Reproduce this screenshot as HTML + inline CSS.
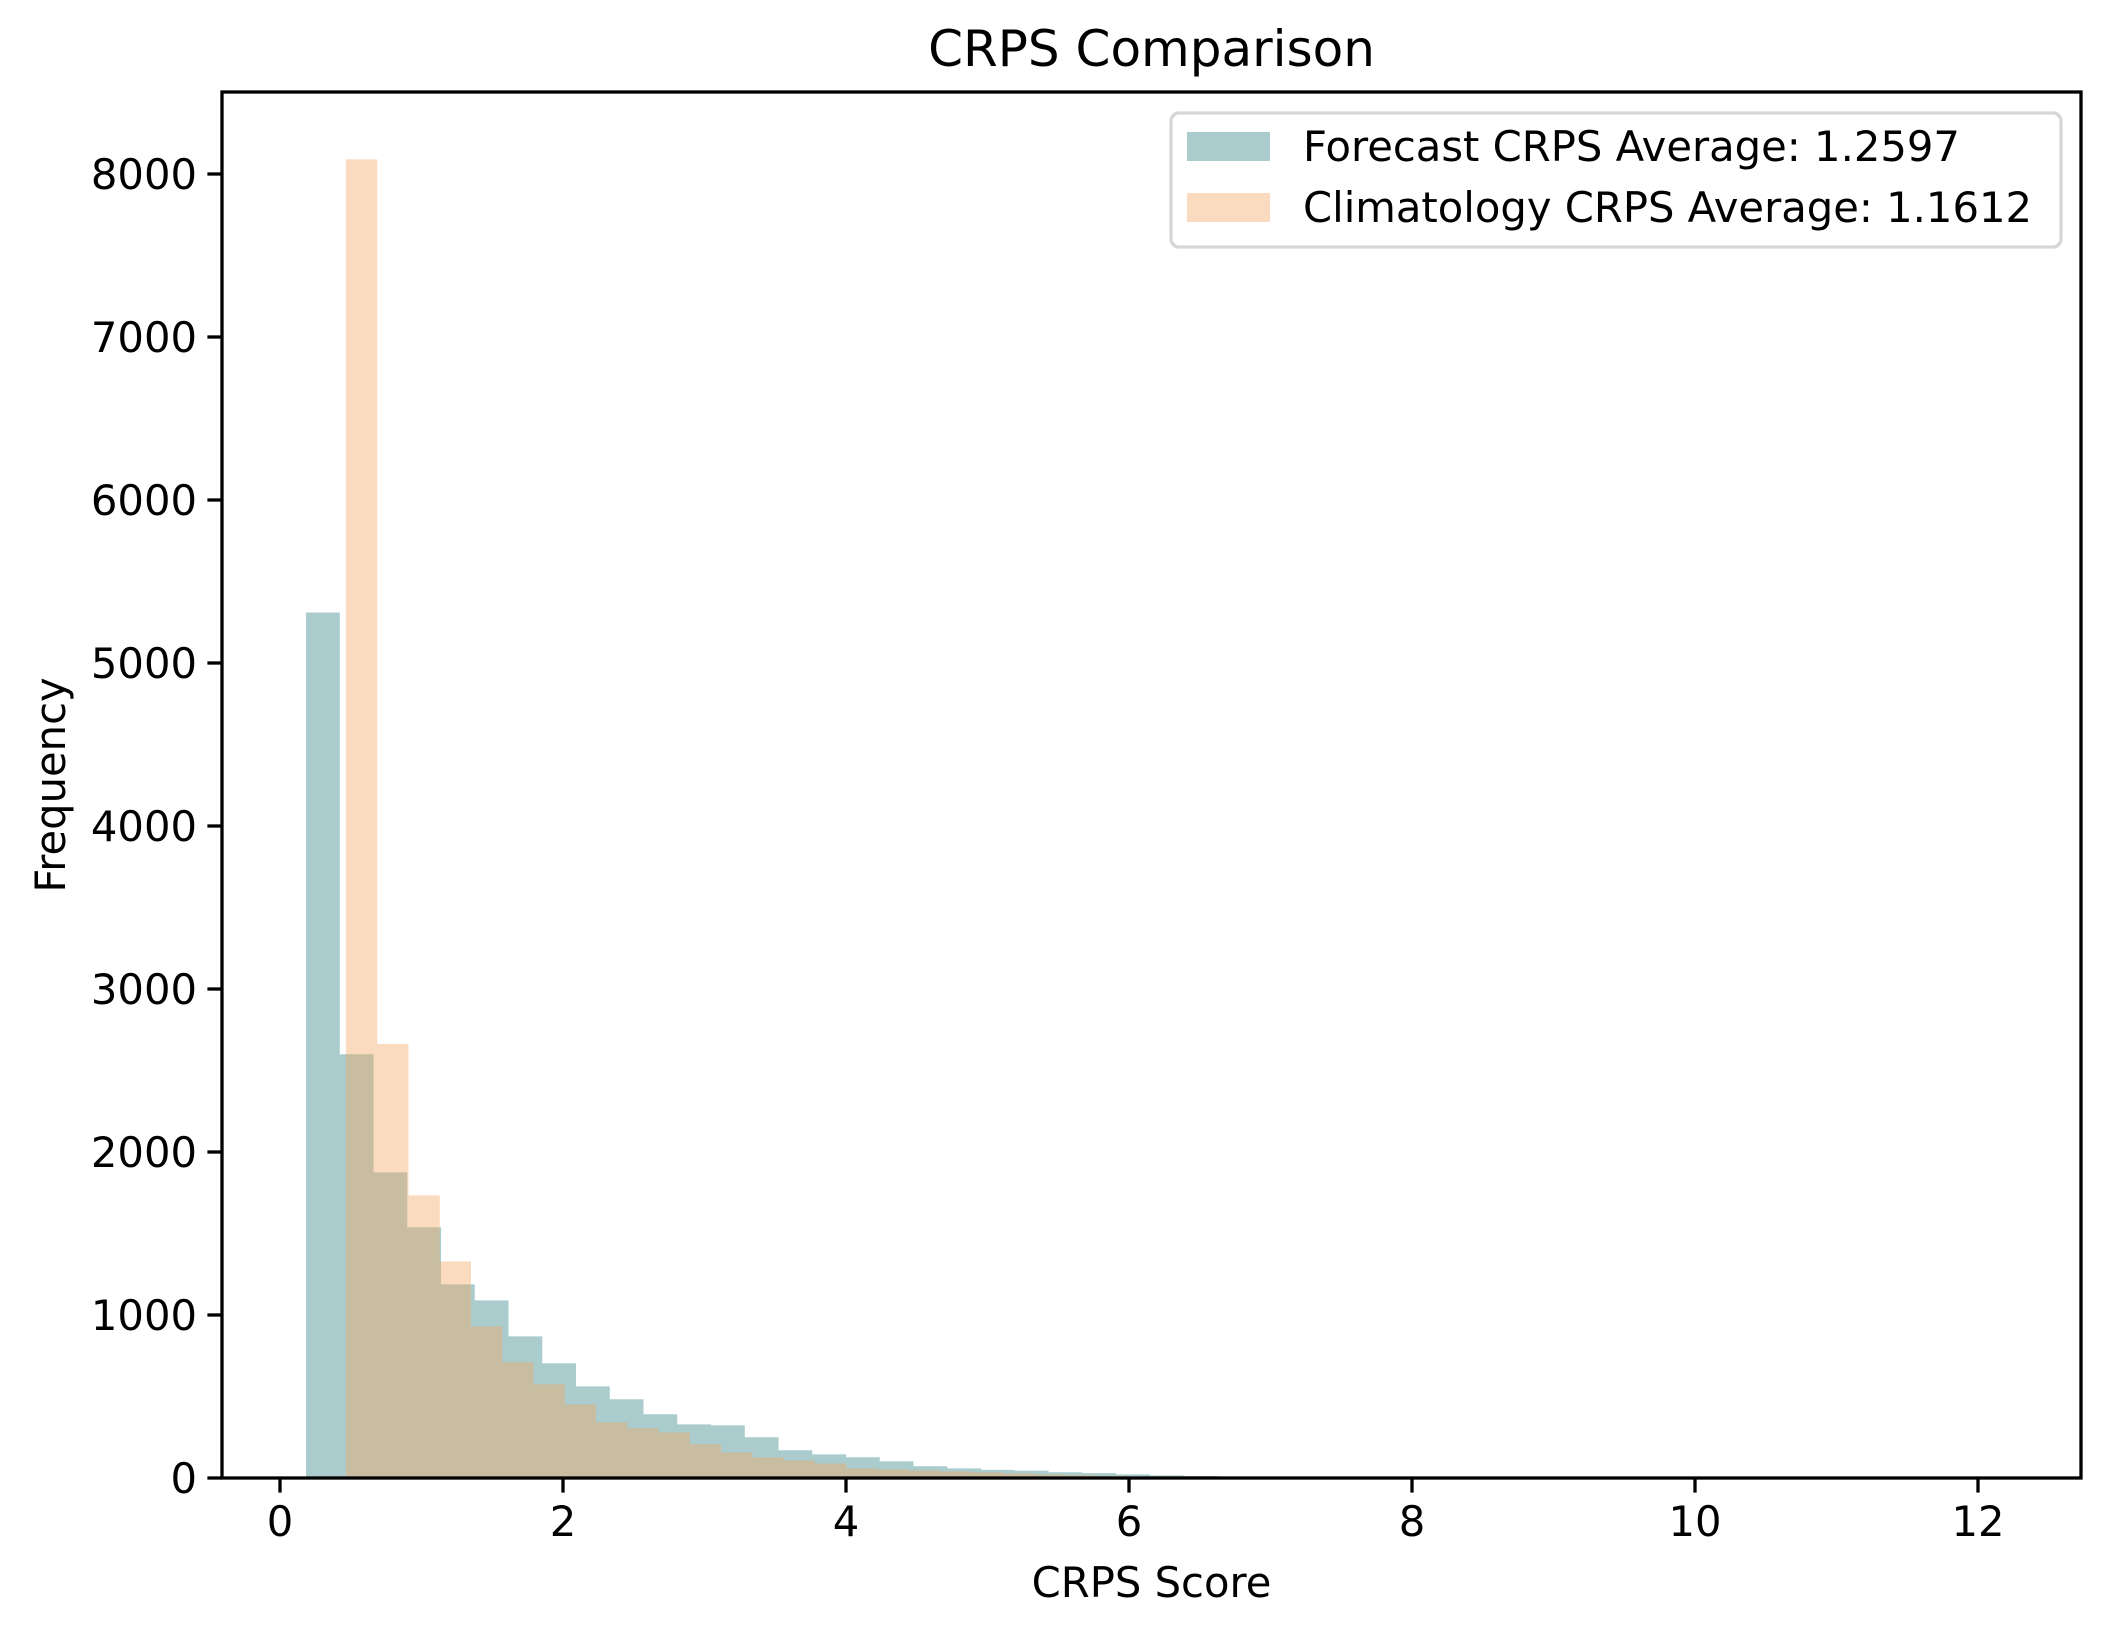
<!DOCTYPE html>
<html><head><meta charset="utf-8"><style>
html,body{margin:0;padding:0;background:#fff;}
svg{display:block;font-family:"DejaVu Sans","Liberation Sans",sans-serif;}
</style></head><body>
<svg id="chart" width="2111" height="1634" viewBox="0 0 2111 1634">
<rect x="0" y="0" width="2111" height="1634" fill="#fff"/>
<g id="bars"></g>
<g id="axes"></g>
</svg>
<script>
const forecastStart = 0.184;
const forecastWidth = 0.2385;
const forecastCounts = [5310,2600,1875,1538,1188,1090,869,703,562,483,391,329,323,250,170,145,127,102,72,59,50,45,35,30,22,16,12,9,7,5,4,3,2,2,1,1,1,1,0,1,0,0,0,0,0,0,0,0,0,1];
const climStart = 0.466;
const climWidth = 0.221;
const climCounts = [8090,2663,1734,1329,930,710,575,452,342,305,280,207,157,127,108,90,59,53,47,41,35,28,22,17,13,10,8,6,5,4,3,2,2,1,1,1,1,0,0,0,0,0,0,0,0,0,0,0,0,0];
const xTicks = [0,2,4,6,8,10,12];
const yTicks = [0,1000,2000,3000,4000,5000,6000,7000,8000];
const legendLabels = ["Forecast CRPS Average: 1.2597","Climatology CRPS Average: 1.1612"];

const L=222,R=2081,T=92,B=1478;
const xs=v=>280+v*141.5;
const ys=v=>B-v*0.163;
const NS="http://www.w3.org/2000/svg";
function mk(tag,attrs,parent){const e=document.createElementNS(NS,tag);for(const k in attrs)e.setAttribute(k,attrs[k]);parent.appendChild(e);return e;}
const bars=document.getElementById('bars');
const axes=document.getElementById('axes');

function stepPath(start,width,counts){
  let d='M'+xs(start)+','+B;
  counts.forEach((c,i)=>{
    const x0=xs(start+i*width),x1=xs(start+(i+1)*width);
    d+=' L'+x0+','+ys(c)+' L'+x1+','+ys(c);
  });
  d+=' L'+xs(start+counts.length*width)+','+B+' Z';
  return d;
}
const fp=mk('path',{d:stepPath(forecastStart,forecastWidth,forecastCounts),fill:'#5f9ea0','fill-opacity':0.53},bars);


const cp=mk('path',{d:stepPath(climStart,climWidth,climCounts),fill:'#f4a460','fill-opacity':0.4},bars);



const frame=mk('rect',{x:L,y:T,width:R-L,height:B-T,fill:'none',stroke:'#000','stroke-width':3.3},axes);



xTicks.forEach(v=>{
  const x=xs(v);
  const t=mk('line',{x1:x,x2:x,y1:B,y2:B+14.6,stroke:'#000','stroke-width':3.3},axes);
  
  
  const lb=mk('text',{x:x,y:B+58,'font-size':41.7,'text-anchor':'middle',fill:'#000'},axes);
  lb.textContent=v;
  
  
});
yTicks.forEach(v=>{
  const y=ys(v);
  const t=mk('line',{x1:L-14.6,x2:L,y1:y,y2:y,stroke:'#000','stroke-width':3.3},axes);
  
  
  const lb=mk('text',{x:L-25,y:y+15,'font-size':41.7,'text-anchor':'end',fill:'#000'},axes);
  lb.textContent=v;
  
  
});

const title=mk('text',{x:(L+R)/2,y:66,'font-size':50,'text-anchor':'middle',fill:'#000'},axes);
title.textContent='CRPS Comparison';



const xl=mk('text',{x:(L+R)/2,y:1597,'font-size':41.7,'text-anchor':'middle',fill:'#000'},axes);
xl.textContent='CRPS Score';



const yl=mk('text',{x:0,y:0,'font-size':41.7,'text-anchor':'middle',fill:'#000',transform:'translate(65,'+((T+B)/2)+') rotate(-90)'},axes);
yl.textContent='Frequency';



const lg=mk('g',{},axes);


mk('rect',{x:1171,y:113,width:890,height:134,rx:8,fill:'#fff','fill-opacity':0.8,stroke:'#d6d6d6','stroke-width':3.3},lg);
const legColors=[['#5f9ea0',0.53],['#f4a460',0.4]];
legendLabels.forEach((s,i)=>{
  const y=132+i*61;
  const p=mk('rect',{x:1187,y:y,width:83,height:29,fill:legColors[i][0],'fill-opacity':legColors[i][1]},lg);
  
  
  const tx=mk('text',{x:1303,y:y+29,'font-size':41.7,fill:'#000'},lg);
  tx.textContent=s;
  
  
});
</script>
</body></html>
